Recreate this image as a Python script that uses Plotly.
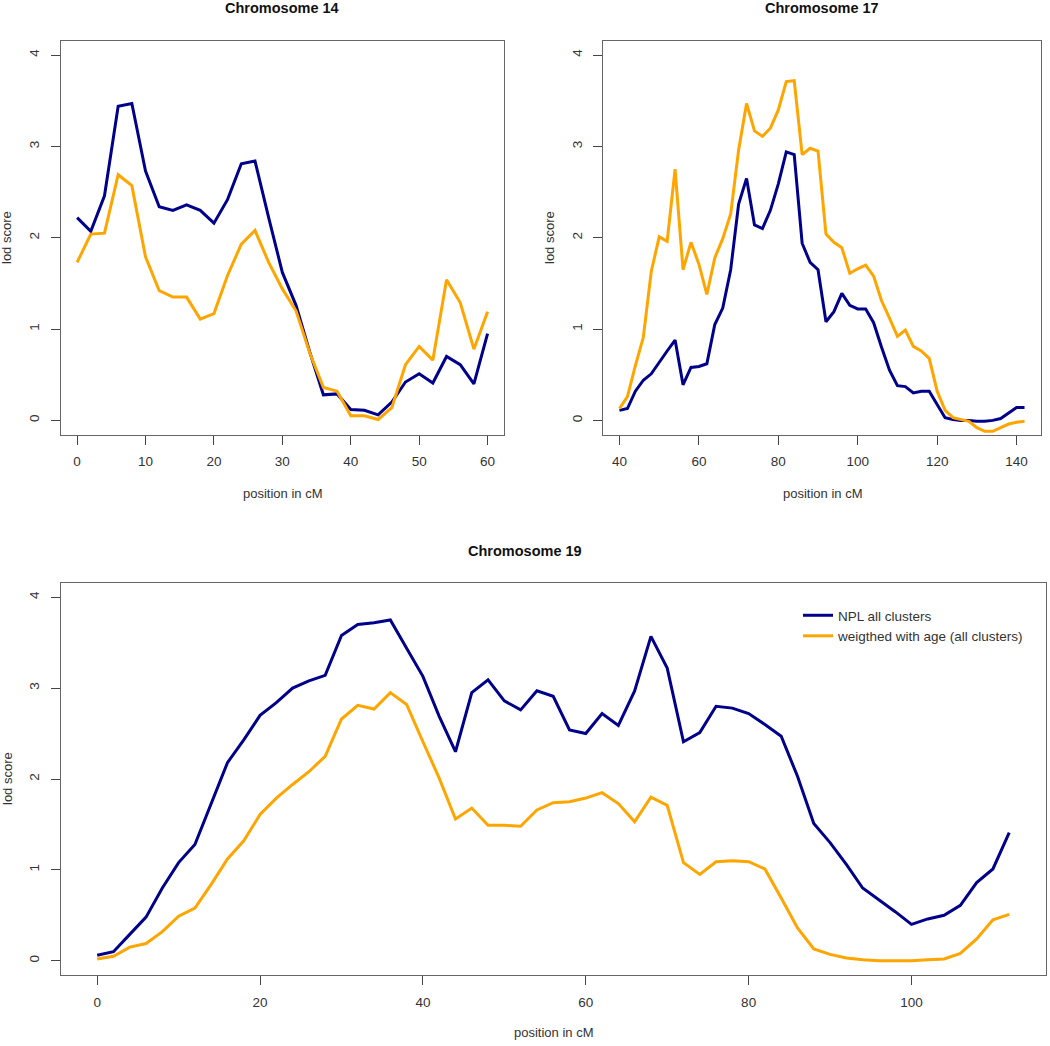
import plotly.graph_objects as go

# ---- Data ----
chr14_pos = list(range(0, 61, 2))
chr14_npl = [2.22, 2.07, 2.46, 3.44, 3.47, 2.73, 2.34, 2.30, 2.36, 2.30, 2.16, 2.42, 2.81, 2.84,
             2.22, 1.62, 1.26, 0.75, 0.28, 0.29, 0.12, 0.11, 0.06, 0.20, 0.42, 0.51, 0.41, 0.70,
             0.61, 0.40, 0.95]
chr14_age = [1.73, 2.04, 2.05, 2.69, 2.57, 1.79, 1.42, 1.35, 1.35, 1.11, 1.17, 1.59, 1.93, 2.08,
             1.73, 1.44, 1.20, 0.74, 0.36, 0.32, 0.05, 0.05, 0.01, 0.14, 0.61, 0.81, 0.66, 1.54,
             1.29, 0.78, 1.19]

chr17_pos = list(range(40, 143, 2))
chr17_npl = [0.11, 0.13, 0.32, 0.44, 0.51, 0.64, 0.76, 0.88, 0.39, 0.58, 0.59, 0.62, 1.05, 1.23,
             1.65, 2.37, 2.65, 2.14, 2.10, 2.30, 2.59, 2.94, 2.91, 1.94, 1.73, 1.65, 1.08, 1.19,
             1.39, 1.26, 1.22, 1.22, 1.07, 0.80, 0.55, 0.38, 0.37, 0.30, 0.32, 0.32, 0.17, 0.03,
             0.01, 0.00, 0.00, -0.01, -0.01, 0.00, 0.02, 0.08, 0.14, 0.14]
chr17_age = [0.13, 0.26, 0.60, 0.91, 1.63, 2.01, 1.96, 2.75, 1.65, 1.95, 1.71, 1.38, 1.78, 1.99,
             2.26, 2.96, 3.47, 3.17, 3.11, 3.20, 3.40, 3.71, 3.72, 2.91, 2.98, 2.95, 2.04, 1.95,
             1.89, 1.61, 1.66, 1.70, 1.58, 1.31, 1.12, 0.92, 0.99, 0.81, 0.76, 0.68, 0.32, 0.11,
             0.03, 0.01, -0.01, -0.08, -0.12, -0.12, -0.08, -0.04, -0.02, -0.01]

chr19_pos = list(range(0, 113, 2))
chr19_npl = [0.06, 0.10, 0.29, 0.48, 0.80, 1.08, 1.28, 1.74, 2.18, 2.43, 2.70, 2.84, 3.00, 3.08,
             3.14, 3.58, 3.70, 3.72, 3.75, 3.44, 3.13, 2.69, 2.30, 2.95, 3.09, 2.86, 2.76, 2.97,
             2.91, 2.54, 2.50, 2.72, 2.59, 2.97, 3.57, 3.22, 2.41, 2.51, 2.80, 2.78, 2.72, 2.60,
             2.47, 2.03, 1.51, 1.30, 1.06, 0.80, 0.67, 0.54, 0.40, 0.46, 0.50, 0.61, 0.86, 1.01,
             1.41]
chr19_age = [0.02, 0.05, 0.15, 0.19, 0.32, 0.49, 0.58, 0.84, 1.12, 1.32, 1.61, 1.79, 1.94, 2.08,
             2.25, 2.66, 2.81, 2.77, 2.95, 2.82, 2.41, 2.01, 1.56, 1.68, 1.49, 1.49, 1.48, 1.66,
             1.74, 1.75, 1.79, 1.85, 1.73, 1.53, 1.80, 1.71, 1.08, 0.95, 1.09, 1.10, 1.09, 1.01,
             0.69, 0.36, 0.13, 0.07, 0.03, 0.01, 0.00, 0.00, 0.00, 0.01, 0.02, 0.08, 0.24, 0.45,
             0.51]

titles = ["Chromosome 14", "Chromosome 17", "Chromosome 19"]
series_names = ["NPL all clusters", "weigthed with age (all clusters)"]
y_ticks = [0, 1, 2, 3, 4]

NAVY = "#00008B"
ORANGE = "#FFA500"
W, H = 1050, 1046
FONT = "Liberation Sans, Arial, sans-serif"

fig = go.Figure()

panels = [
    dict(pos=chr14_pos, npl=chr14_npl, age=chr14_age, xa="x", ya="y",
         xdom=[60.7 / W, 504 / W], ydom=[1 - 435 / H, 1 - 40.5 / H],
         xr=[0 - 2.4, 60 + 2.4], xt=[0, 10, 20, 30, 40, 50, 60]),
    dict(pos=chr17_pos, npl=chr17_npl, age=chr17_age, xa="x2", ya="y2",
         xdom=[603.3 / W, 1040.7 / W], ydom=[1 - 435 / H, 1 - 40.5 / H],
         xr=[40 - 4.08, 142 + 4.08], xt=[40, 60, 80, 100, 120, 140]),
    dict(pos=chr19_pos, npl=chr19_npl, age=chr19_age, xa="x3", ya="y3",
         xdom=[60.7 / W, 1045.7 / W], ydom=[1 - 975.3 / H, 1 - 582.7 / H],
         xr=[0 - 4.48, 112 + 4.48], xt=[0, 20, 40, 60, 80, 100]),
]

for i, p in enumerate(panels):
    show = (i == 2)
    fig.add_trace(go.Scatter(x=p["pos"], y=p["npl"], mode="lines", name=series_names[0],
                             line=dict(color=NAVY, width=3), xaxis=p["xa"], yaxis=p["ya"],
                             showlegend=show))
    fig.add_trace(go.Scatter(x=p["pos"], y=p["age"], mode="lines", name=series_names[1],
                             line=dict(color=ORANGE, width=3), xaxis=p["xa"], yaxis=p["ya"],
                             showlegend=show))

axis_font = dict(family=FONT, size=13.5, color="#333333")
layout = {}
for i, p in enumerate(panels):
    suf = "" if i == 0 else str(i + 1)
    layout["xaxis" + suf] = dict(
        domain=p["xdom"], range=p["xr"], tickvals=p["xt"], ticks="outside", ticklen=9,
        tickcolor="#444", tickwidth=1, showline=True, mirror=True, linecolor="#666",
        linewidth=1.3, showgrid=False, zeroline=False, tickfont=axis_font,
        anchor="y" + suf, ticklabelstandoff=5)
    layout["yaxis" + suf] = dict(
        domain=p["ydom"], range=[-0.16, 4.16], tickvals=y_ticks, ticks="outside", ticklen=9,
        tickcolor="#444", tickwidth=1, showline=True, mirror=True, linecolor="#666",
        linewidth=1.3, showgrid=False, zeroline=False, tickfont=axis_font, tickangle=-90,
        anchor="x" + suf, ticklabelstandoff=6)

ann = []
title_font = dict(family=FONT, size=14.5, color="#111")
lab_font = dict(family=FONT, size=13, color="#333")
title_pos = [(282, 8), (822, 8), (525, 551)]
xlabel_pos = [(282, 493), (822, 493), (553, 1032)]
ylabel_pos = [(7, 238), (550, 238), (7, 779)]
for i in range(3):
    tx, ty = title_pos[i]
    ann.append(dict(text="<b>%s</b>" % titles[i], x=tx / W, y=1 - ty / H, xref="paper",
                    yref="paper", showarrow=False, font=title_font, xanchor="center",
                    yanchor="middle"))
    lx, ly = xlabel_pos[i]
    ann.append(dict(text="position in cM", x=lx / W, y=1 - ly / H, xref="paper", yref="paper",
                    showarrow=False, font=lab_font, xanchor="center", yanchor="middle"))
    yx, yy = ylabel_pos[i]
    ann.append(dict(text="lod score", x=yx / W, y=1 - yy / H, xref="paper", yref="paper",
                    showarrow=False, font=lab_font, xanchor="center", yanchor="middle",
                    textangle=-90))

fig.update_layout(
    width=W, height=H, margin=dict(l=0, r=0, t=0, b=0),
    paper_bgcolor="white", plot_bgcolor="white",
    annotations=ann,
    legend=dict(x=798 / W, y=1 - 600 / H, xanchor="left", yanchor="top",
                bgcolor="rgba(0,0,0,0)", borderwidth=0,
                font=dict(family=FONT, size=13.5, color="#333"),
                itemwidth=30, tracegroupgap=0),
    **layout,
)

fig.write_html("out.html", config={"displayModeBar": False},
               post_script="document.body.style.margin='0';document.body.style.overflow='hidden';")
